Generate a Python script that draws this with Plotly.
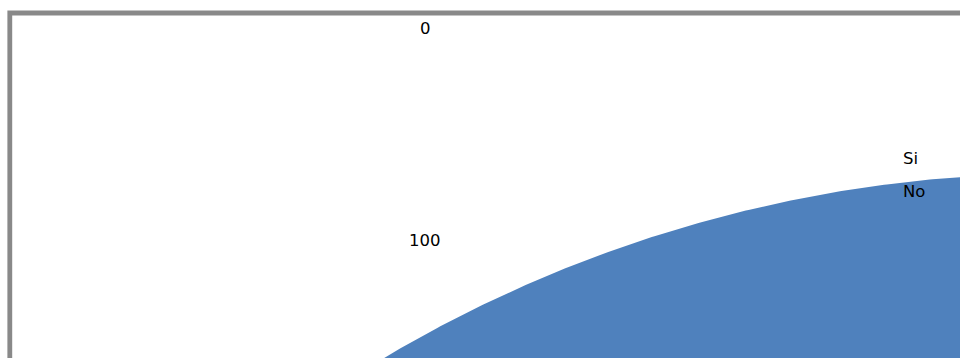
import numpy as np
import plotly.graph_objects as go

# Pie data: answer categories and their counts
categories = ["Si", "No"]
values = [0, 100]
slice_colors = ["#C0504D", "#4F81BD"]

# Pie geometry in the 960x358 canvas units (the pie is larger than the frame)
CX, CY, R = 1056.0, 1490.0, 1316.5
W, H = 960, 358

fig = go.Figure()

total = float(sum(values))
start = 90.0  # first slice begins at 12 o'clock, slices run clockwise
for name, val, col in zip(categories, values, slice_colors):
    sweep = 360.0 * val / total
    if sweep > 0:
        ang = np.radians(np.linspace(start, start - sweep, 2880))
        xs = np.concatenate([[CX], CX + R * np.cos(ang), [CX]])
        ys = np.concatenate([[CY], CY - R * np.sin(ang), [CY]])
        fig.add_trace(go.Scatter(
            x=xs, y=ys, mode="lines", fill="toself",
            fillcolor=col, line=dict(width=0, color=col),
            name=name, hoverinfo="name", showlegend=False,
        ))
    start -= sweep

font = dict(family="DejaVu Sans", size=16.5, color="#000000")

# Data labels for each slice
fig.add_annotation(x=425, y=28, xref="x", yref="y", text=str(values[0]),
                   showarrow=False, font=font, xanchor="center", yanchor="middle")
fig.add_annotation(x=425, y=240, xref="x", yref="y", text=str(values[1]),
                   showarrow=False, font=font, xanchor="center", yanchor="middle")

# Legend entries
fig.add_annotation(x=901, y=158, xref="x", yref="y", text=categories[0],
                   showarrow=False, font=font, xanchor="left", yanchor="middle")
fig.add_annotation(x=901, y=191, xref="x", yref="y", text=categories[1],
                   showarrow=False, font=font, xanchor="left", yanchor="middle")

# Chart-area frame (only top and left edges fall inside the canvas)
fig.add_shape(type="rect", xref="paper", yref="paper",
              x0=9.8 / W, x1=1.05, y0=-0.1, y1=1 - 13.0 / H,
              line=dict(color="#898989", width=4.8), fillcolor="rgba(0,0,0,0)",
              layer="above")

fig.update_layout(
    width=W, height=H,
    margin=dict(l=0, r=0, t=0, b=0),
    paper_bgcolor="#FFFFFF", plot_bgcolor="#FFFFFF",
    showlegend=False,
    xaxis=dict(range=[0, W], visible=False, fixedrange=True),
    yaxis=dict(range=[H, 0], visible=False, fixedrange=True),
)

fig.write_html("out.html")
